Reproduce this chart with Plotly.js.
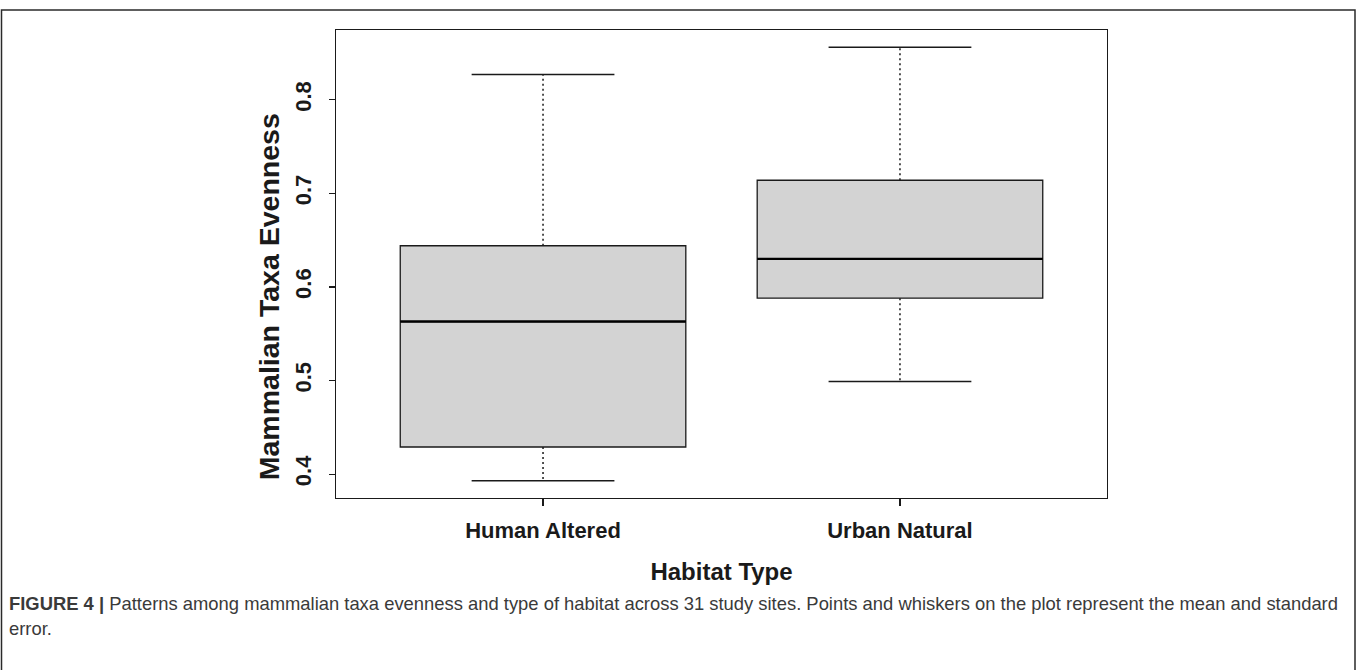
<!DOCTYPE html>
<html>
<head>
<meta charset="utf-8">
<script src="https://cdn.plot.ly/plotly-3.0.1.min.js"></script>
<style>
  html, body { margin: 0; padding: 0; background: #ffffff; }
  #chart { width: 1360px; height: 670px; }
</style>
</head>
<body>
<div id="chart"></div>
<script>
// ---- data ----
const categories   = ["Human Altered", "Urban Natural"];
const xPos         = [1, 2];
const lowerWhisker = [0.393, 0.499];
const q1           = [0.429, 0.588];
const median       = [0.563, 0.630];
const q3           = [0.644, 0.714];
const upperWhisker = [0.827, 0.856];
const yTickVals    = [0.4, 0.5, 0.6, 0.7, 0.8];
const yTickText    = ["0.4", "0.5", "0.6", "0.7", "0.8"];
const xTitle       = "Habitat Type";
const yTitle       = "Mammalian Taxa Evenness";
const captionLine1 = "<b>FIGURE 4 |</b> Patterns among mammalian taxa evenness and type of habitat across 31 study sites. Points and whiskers on the plot represent the mean and standard";
const captionLine2 = "error.";

// ---- style constants ----
const FONT = "Liberation Sans, Arial, Helvetica, sans-serif";
const INK = "#1a1a1a";
const BOX_HALF = 0.4;    // R default boxwex 0.8
const CAP_HALF = 0.2;    // staplewex 0.5

// whisker (dotted) segments
const wx = [], wy = [];
const cx = [], cy = [];
const mx = [], my = [];
xPos.forEach((x, i) => {
  wx.push(x, x, null, x, x, null);
  wy.push(q3[i], upperWhisker[i], null, q1[i], lowerWhisker[i], null);
  cx.push(x - CAP_HALF, x + CAP_HALF, null, x - CAP_HALF, x + CAP_HALF, null);
  cy.push(upperWhisker[i], upperWhisker[i], null, lowerWhisker[i], lowerWhisker[i], null);
  mx.push(x - BOX_HALF, x + BOX_HALF, null);
  my.push(median[i], median[i], null);
});

const traces = [
  {
    type: "box",
    x: xPos,
    q1: q1,
    median: median,
    q3: q3,
    lowerfence: q1,
    upperfence: q3,
    width: 2 * BOX_HALF,
    whiskerwidth: 0,
    boxpoints: false,
    fillcolor: "#d3d3d3",
    line: { color: INK, width: 1.3 },
    showlegend: false,
    hoverinfo: "skip"
  },
  {
    type: "scatter", mode: "lines", x: wx, y: wy,
    line: { color: INK, width: 1.5, dash: "2px,3px" },
    showlegend: false, hoverinfo: "skip"
  },
  {
    type: "scatter", mode: "lines", x: cx, y: cy,
    line: { color: INK, width: 1.4 },
    showlegend: false, hoverinfo: "skip"
  },
  {
    type: "scatter", mode: "lines", x: mx, y: my,
    line: { color: "#000000", width: 2.4 },
    showlegend: false, hoverinfo: "skip"
  }
];

// paper-coordinate helpers for the outer frame / caption
const L = 336, R = 1107, T = 30, B = 497.6;
const px = v => (v - L) / (R - L);
const py = v => (B - v) / (B - T);

const layout = {
  width: 1360,
  height: 670,
  margin: { l: L, r: 1360 - R, t: T, b: 670 - B, pad: 0 },
  paper_bgcolor: "#ffffff",
  plot_bgcolor: "#ffffff",
  font: { family: FONT, color: INK },
  showlegend: false,
  xaxis: {
    range: [0.42, 2.58],
    tickmode: "array",
    tickvals: xPos,
    ticktext: categories,
    ticks: "outside",
    ticklen: 7,
    tickwidth: 1.2,
    tickcolor: INK,
    ticklabelstandoff: 5,
    showline: true,
    linecolor: INK,
    linewidth: 1.3,
    mirror: true,
    showgrid: false,
    zeroline: false,
    tickfont: { family: FONT, size: 22, weight: "bold", color: INK },
    title: { text: xTitle, font: { family: FONT, size: 24, weight: "bold", color: INK }, standoff: 21 }
  },
  yaxis: {
    range: [0.3745, 0.8745],
    tickmode: "array",
    tickvals: yTickVals,
    ticktext: yTickText,
    tickangle: -90,
    ticks: "outside",
    ticklen: 6,
    tickwidth: 1.2,
    tickcolor: INK,
    ticklabelstandoff: 9,
    showline: true,
    linecolor: INK,
    linewidth: 1.3,
    mirror: true,
    showgrid: false,
    zeroline: false,
    tickfont: { family: FONT, size: 22, weight: "bold", color: INK }
  },
  annotations: [
    {
      text: yTitle, textangle: -90, showarrow: false,
      xref: "paper", yref: "paper", x: px(269), y: py(297),
      xanchor: "center", yanchor: "middle",
      font: { family: FONT, size: 28.5, weight: "bold", color: INK }
    },
    {
      text: captionLine1, showarrow: false,
      xref: "paper", yref: "paper", x: px(7), y: py(603),
      xanchor: "left", yanchor: "middle", align: "left",
      font: { family: FONT, size: 18.4, color: "#3a3a3a" }
    },
    {
      text: captionLine2, showarrow: false,
      xref: "paper", yref: "paper", x: px(7), y: py(628),
      xanchor: "left", yanchor: "middle", align: "left",
      font: { family: FONT, size: 18.4, color: "#3a3a3a" }
    }
  ],
  shapes: [
    {
      type: "rect", xref: "paper", yref: "paper",
      x0: px(1.5), x1: px(1355), y0: py(690), y1: py(10),
      line: { color: "#2a2a2a", width: 1.5 }, fillcolor: "rgba(0,0,0,0)", layer: "above"
    }
  ]
};

Plotly.newPlot("chart", traces, layout, { staticPlot: true, displayModeBar: false });
</script>
</body>
</html>
